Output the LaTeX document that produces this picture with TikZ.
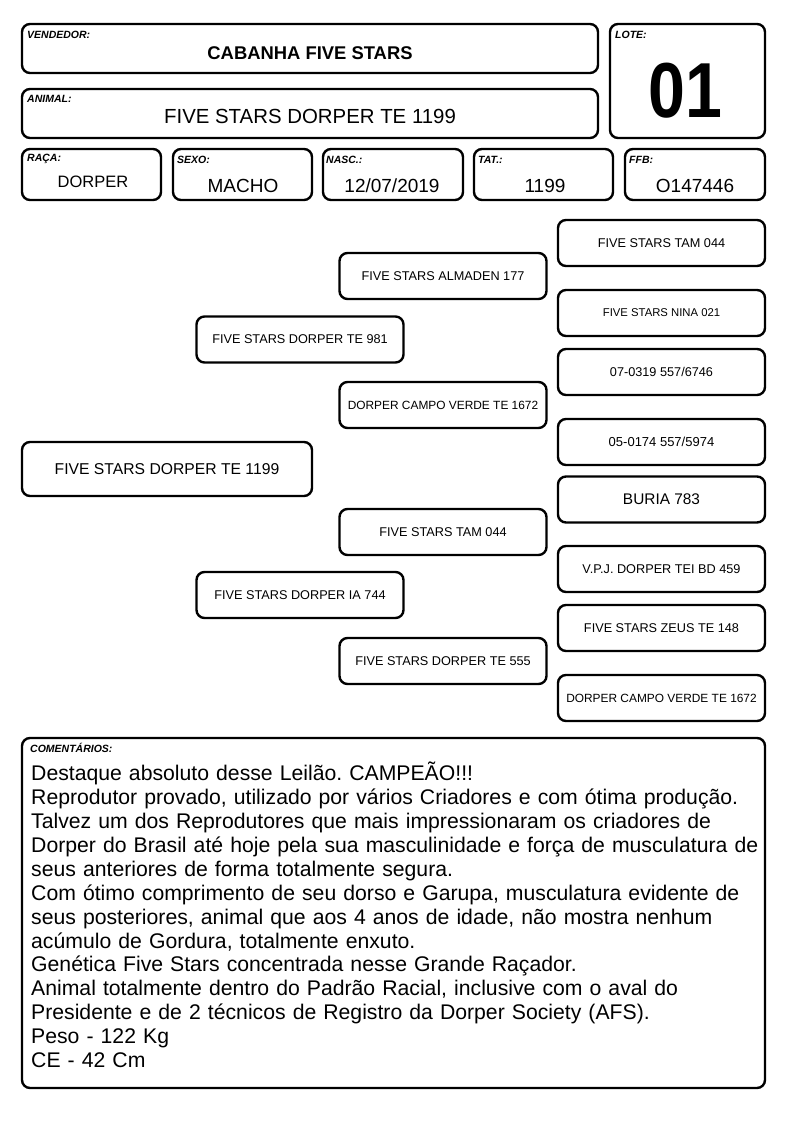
\documentclass[tikz,border=0pt]{standalone}
\usepackage{fontspec}
\setmainfont{Liberation Sans}
\newfontfamily\narrowfont[FakeStretch=0.85]{Liberation Sans}
\newcommand{\sizept}[1]{\fontsize{#1}{#1}\selectfont}
\frenchspacing

\begin{document}
\begin{tikzpicture}[x=1pt,y=-1pt,
		frame/.style={draw,line width=2.4pt,rounded corners=8pt,inner sep=0pt},
		ped/.style={frame,minimum width=207pt,minimum height=46pt,font=\sizept{12.7}},
		tag/.style={anchor=west,inner sep=0pt,font=\sizept{10.5}\bfseries\itshape},
		val/.style={inner sep=0pt,font=\sizept{19}}]

	\useasboundingbox (0,0) rectangle (794,1123);

		\node(vend)   [frame,minimum width=576pt,minimum height=49pt]  at (310,48.5)  {};
		\node(lote)   [frame,minimum width=155pt,minimum height=114pt] at (687.5,81)  {};
		\node(animal) [frame,minimum width=576pt,minimum height=49pt]  at (310,113.5) {};
		\node(raca)   [frame,minimum width=139pt,minimum height=51pt]  at (91.5,174.5) {};
		\node(sexo)   [frame,minimum width=139pt,minimum height=51pt]  at (242.5,174.5) {};
		\node(nasc)   [frame,minimum width=140pt,minimum height=51pt]  at (393,174.5) {};
		\node(tat)    [frame,minimum width=139pt,minimum height=51pt]  at (543.5,174.5) {};
		\node(ffb)    [frame,minimum width=140pt,minimum height=51pt]  at (695,174.5) {};

		\node[tag] (t_vend)   at (27,35)  {VENDEDOR:};
		\node[tag] (t_lote)   at (615,35) {LOTE:};
		\node[tag] (t_animal) at (27,99)  {ANIMAL:};
		\node[tag] (t_raca)   at (27,158.5) {RAÇA:};
		\node[tag] (t_sexo)   at (177,160) {SEXO:};
		\node[tag] (t_nasc)   at (326,160) {NASC.:};
		\node[tag] (t_tat)    at (478,160) {TAT.:};
		\node[tag] (t_ffb)    at (629,160) {FFB:};

		\node(v_vend)   [inner sep=0pt,font=\sizept{18.4}\bfseries] at (310,53)  {CABANHA FIVE STARS};
		\node(v_lote)   [inner sep=0pt,font=\narrowfont\sizept{78}\bfseries] at (685,91) {01};
		\node(v_animal) [inner sep=0pt,font=\sizept{20.4}] at (310,116) {FIVE STARS DORPER TE 1199};
		\node(v_raca)   [val,font=\sizept{16.5}] at (93,182)  {DORPER};
		\node(v_sexo)   [val] at (243,186) {MACHO};
		\node(v_nasc)   [val] at (392,186) {12/07/2019};
		\node(v_tat)    [val] at (545,186) {1199};
		\node(v_ffb)    [val] at (695,186) {O147446};

		\node(p_0) [frame,minimum width=290pt,minimum height=54pt,font=\sizept{15.7}] at (167,469) {FIVE STARS DORPER TE 1199};

		\node(p_1) [ped] at (300,339.5) {FIVE STARS DORPER TE 981};
		\node(p_2) [ped] at (300,595)   {FIVE STARS DORPER IA 744};

		\node(p_11) [ped] at (443,276) {FIVE STARS ALMADEN 177};
		\node(p_12) [ped,font=\sizept{11.9}] at (443,405) {DORPER CAMPO VERDE TE 1672};
		\node(p_21) [ped] at (443,532) {FIVE STARS TAM 044};
		\node(p_22) [ped] at (443,661) {FIVE STARS DORPER TE 555};

		\node(p_111) [ped] at (661.5,243) {FIVE STARS TAM 044};
		\node(p_112) [ped,font=\sizept{11.3}] at (661.5,313) {FIVE STARS NINA 021};
		\node(p_121) [ped] at (661.5,372) {07-0319 557/6746};
		\node(p_122) [ped,font=\sizept{13}] at (661.5,442) {05-0174 557/5974};
		\node(p_211) [ped,font=\sizept{15.4}] at (661.5,499.5) {BURIA 783};
		\node(p_212) [ped] at (661.5,569) {V.P.J. DORPER TEI BD 459};
		\node(p_221) [ped] at (661.5,628) {FIVE STARS ZEUS TE 148};
		\node(p_222) [ped,font=\sizept{11.9}] at (661.5,698) {DORPER CAMPO VERDE TE 1672};

		\node(coment) [frame,minimum width=743pt,minimum height=350pt] at (393.5,913) {};
		\node[tag] (t_coment) at (30,748) {COMENTÁRIOS:};
		\node(v_coment) [anchor=base west,inner sep=0pt,text width=740pt,align=left,
			font=\fontsize{21.2}{23.9}\selectfont] at (31,780.7)
			{Destaque absoluto desse Leilão. CAMPEÃO!!!\\
			Reprodutor provado, utilizado por vários Criadores e com ótima produção.\\
			Talvez um dos Reprodutores que mais impressionaram os criadores de\\
			Dorper do Brasil até hoje pela sua masculinidade e força de musculatura de\\
			seus anteriores de forma totalmente segura.\\
			Com ótimo comprimento de seu dorso e Garupa, musculatura evidente de\\
			seus posteriores, animal que aos 4 anos de idade, não mostra nenhum\\
			acúmulo de Gordura, totalmente enxuto.\\
			Genética Five Stars concentrada nesse Grande Raçador.\\
			Animal totalmente dentro do Padrão Racial, inclusive com o aval do\\
			Presidente e de 2 técnicos de Registro da Dorper Society (AFS).\\
			Peso - 122 Kg\\
			CE - 42 Cm};
	\end{tikzpicture}
\end{document}
